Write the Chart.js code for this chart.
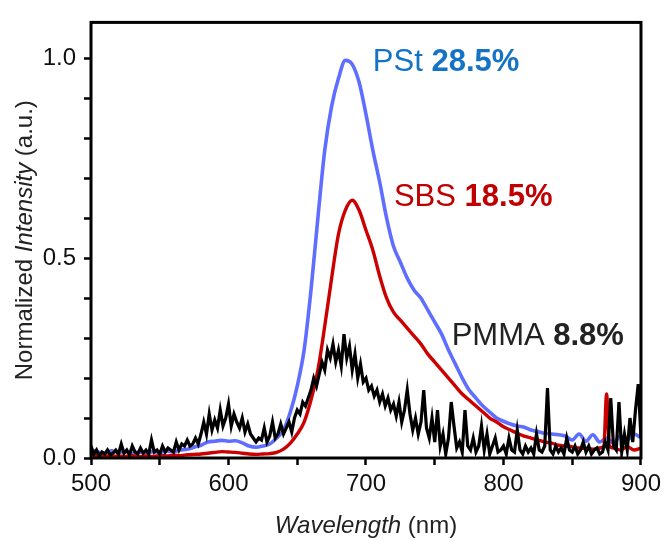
<!DOCTYPE html>
<html>
<head>
<meta charset="utf-8">
<script src="https://cdn.jsdelivr.net/npm/chart.js@4.4.1/dist/chart.umd.min.js"></script>
<style>
  html, body { margin: 0; padding: 0; background: #fff; }
  #wrap { width: 666px; height: 541px; position: relative; }
</style>
</head>
<body>
<div id="wrap"><canvas id="myChart"></canvas></div>
<script>
// PSt emission, every 5 nm from 500 to 900
const pstValues = [
  0.020, 0.015, 0.012, 0.018, 0.014, 0.016, 0.012, 0.015, 0.013, 0.016,
  0.014, 0.017, 0.016, 0.020, 0.022, 0.027, 0.032, 0.040, 0.042, 0.044,
  0.042, 0.043, 0.038, 0.030, 0.027, 0.030, 0.035, 0.050, 0.070, 0.115,
  0.180, 0.270, 0.420, 0.600, 0.770, 0.880, 0.950, 0.995, 0.985, 0.940,
  0.860, 0.770, 0.690, 0.600, 0.530, 0.490, 0.450, 0.420, 0.400, 0.370,
  0.340, 0.310, 0.270, 0.235, 0.200, 0.170, 0.150, 0.130, 0.115, 0.100,
  0.092, 0.085, 0.080, 0.077, 0.070, 0.066, 0.062, 0.060, 0.058, 0.055,
  0.045, 0.060, 0.042, 0.058, 0.040, 0.050, 0.038, 0.055, 0.045, 0.060,
  0.050
];

// SBS emission, every 5 nm from 500 to 870, then the spike and the tail
const sbsMain = [
  0.010, 0.005, 0.006, 0.004, 0.005, 0.004, 0.006, 0.004, 0.005, 0.004,
  0.006, 0.005, 0.007, 0.006, 0.008, 0.009, 0.010, 0.012, 0.014, 0.016,
  0.015, 0.014, 0.012, 0.010, 0.009, 0.010, 0.011, 0.014, 0.022, 0.037,
  0.060, 0.090, 0.145, 0.220, 0.330, 0.450, 0.560, 0.620, 0.645, 0.620,
  0.570, 0.520, 0.455, 0.400, 0.365, 0.345, 0.325, 0.305, 0.285, 0.260,
  0.240, 0.220, 0.200, 0.180, 0.160, 0.145, 0.130, 0.115, 0.100, 0.090,
  0.078, 0.070, 0.062, 0.055, 0.050, 0.045, 0.040, 0.037, 0.032, 0.030,
  0.028, 0.025, 0.024, 0.022, 0.025
];
const sbsTailWl = [873, 875, 877, 880, 885, 890, 895, 900];
const sbsTail = [0.030, 0.160, 0.030, 0.025, 0.020, 0.028, 0.020, 0.025];

// PMMA emission, every 2 nm from 500 to 900
const pmmaValues = [
  0.030, 0.010, 0.020, 0.005, 0.015, 0.010, 0.020, 0.008, 0.012, 0.020,
  0.010, 0.035, 0.012, 0.020, 0.008, 0.030, 0.015, 0.010, 0.025, 0.012,
  0.020, 0.010, 0.045, 0.015, 0.020, 0.010, 0.030, 0.015, 0.025, 0.020,
  0.015, 0.040, 0.020, 0.035, 0.030, 0.045, 0.030, 0.035, 0.050, 0.035,
  0.060, 0.090, 0.060, 0.110, 0.070, 0.095, 0.075, 0.120, 0.080, 0.100,
  0.135, 0.080, 0.110, 0.090, 0.075, 0.100, 0.065, 0.085, 0.060, 0.050,
  0.040, 0.050, 0.045, 0.075, 0.040, 0.055, 0.090, 0.050, 0.060, 0.085,
  0.060, 0.075, 0.090, 0.065, 0.100, 0.120, 0.110, 0.140, 0.130, 0.150,
  0.170, 0.200, 0.180, 0.210, 0.240, 0.220, 0.270, 0.250, 0.285, 0.240,
  0.270, 0.230, 0.310, 0.250, 0.280, 0.220, 0.260, 0.200, 0.235, 0.190,
  0.200, 0.170, 0.180, 0.155, 0.170, 0.140, 0.160, 0.130, 0.150, 0.120,
  0.135, 0.105, 0.140, 0.090, 0.120, 0.170, 0.110, 0.070, 0.100, 0.060,
  0.090, 0.170, 0.075, 0.050, 0.100, 0.040, 0.120, 0.030, 0.060, 0.010,
  0.050, 0.140, 0.080, 0.025, 0.040, 0.015, 0.120, 0.030, 0.020, 0.050,
  0.015, 0.030, 0.080, 0.020, 0.060, 0.010, 0.030, 0.050, 0.015, 0.020,
  0.030, 0.010, 0.050, 0.020, 0.015, 0.070, 0.020, 0.010, 0.030, 0.015,
  0.025, 0.010, 0.060, 0.020, 0.015, 0.030, 0.175, 0.020, 0.010, 0.030,
  0.015, 0.025, 0.010, 0.050, 0.020, 0.015, 0.030, 0.010, 0.020, 0.040,
  0.015, 0.030, 0.010, 0.020, 0.025, 0.010, 0.015, 0.040, 0.020, 0.150,
  0.030, 0.020, 0.140, 0.015, 0.060, 0.020, 0.100, 0.040, 0.120, 0.185,
  0.050
];

const xTicks = [500, 600, 700, 800, 900];
const yTicks = [0.0, 0.5, 1.0];

const FONT = 'Arial, "Liberation Sans", sans-serif';

function onGrid(values, start, step) {
  return values.map((v, i) => ({ x: start + i * step, y: v }));
}

const pstData = onGrid(pstValues, 500, 5);
const sbsData = onGrid(sbsMain, 500, 5).concat(sbsTailWl.map((w, i) => ({ x: w, y: sbsTail[i] })));
const pmmaData = onGrid(pmmaValues, 500, 2);

// text with mixed styles: [[text, style], ...]
function drawParts(ctx, parts, size, x, y, align) {
  let total = 0;
  parts.forEach(p => {
    ctx.font = `${p[1]} ${size}px ${FONT}`;
    total += ctx.measureText(p[0]).width;
  });
  let cx = align === "center" ? x - total / 2 : x;
  parts.forEach(p => {
    ctx.font = `${p[1]} ${size}px ${FONT}`;
    ctx.fillText(p[0], cx, y);
    cx += ctx.measureText(p[0]).width;
  });
}

const frameAndText = {
  id: "frameAndText",
  afterDraw(chart) {
    const { ctx, chartArea: a, scales } = chart;
    ctx.save();
    // box round the plot
    ctx.strokeStyle = "#000";
    ctx.lineWidth = 3;
    ctx.strokeRect(a.left, a.top, a.right - a.left, a.bottom - a.top);

    ctx.fillStyle = "#222";
    ctx.textAlign = "left";
    ctx.textBaseline = "alphabetic";
    drawParts(ctx, [["Wavelength", "italic"], [" (nm)", "normal"]], 24, (a.left + a.right) / 2, 533, "center");

    ctx.save();
    ctx.translate(32, (a.top + a.bottom) / 2);
    ctx.rotate(-Math.PI / 2);
    drawParts(ctx, [["Normalized ", "normal"], ["Intensity", "italic"], [" (a.u.)", "normal"]], 24, 0, 0, "center");
    ctx.restore();

    // sample labels
    const notes = [
      { x: 705, y: 0.968, name: "PSt ", value: "28.5%", color: "#1573c6" },
      { x: 720.3, y: 0.63, name: "SBS ", value: "18.5%", color: "#c00000" },
      { x: 762.3, y: 0.284, name: "PMMA ", value: "8.8%", color: "#222222" }
    ];
    notes.forEach(n => {
      ctx.fillStyle = n.color;
      drawParts(ctx, [[n.name, "normal"], [n.value, "bold"]], 31,
        scales.x.getPixelForValue(n.x), scales.y.getPixelForValue(n.y), "left");
    });
    ctx.restore();
  }
};

const ctx = document.getElementById("myChart").getContext("2d");
const myChart = new Chart(ctx, {
  type: "line",
  data: {
    datasets: [
      {
        label: "PMMA",
        data: pmmaData,
        borderColor: "#000000",
        borderWidth: 3.2,
        pointRadius: 0,
        tension: 0,
        order: 1
      },
      {
        label: "SBS",
        data: sbsData,
        borderColor: "#cc0000",
        borderWidth: 3.4,
        pointRadius: 0,
        cubicInterpolationMode: "monotone",
        order: 2
      },
      {
        label: "PSt",
        data: pstData,
        borderColor: "#5f6eff",
        borderWidth: 3.6,
        pointRadius: 0,
        cubicInterpolationMode: "monotone",
        order: 3
      }
    ]
  },
  options: {
    responsive: true,
    maintainAspectRatio: false,
    animation: false,
    layout: { padding: { top: 15, right: 23, left: 0, bottom: 0 } },
    plugins: {
      legend: { display: false },
      tooltip: { enabled: false }
    },
    scales: {
      x: {
        type: "linear",
        min: 500,
        max: 900,
        afterFit: s => { s.height = 83; },
        border: { display: false },
        grid: { drawOnChartArea: false, tickLength: 7, tickColor: "#000", tickWidth: 2.5 },
        ticks: {
          stepSize: 50,
          autoSkip: false,
          maxRotation: 0,
          padding: 5,
          color: "#111",
          font: { family: FONT, size: 24 },
          callback: v => xTicks.includes(v) ? String(v) : ""
        }
      },
      y: {
        min: 0,
        max: 1.09,
        afterFit: s => { s.width = 91; },
        border: { display: false },
        grid: { drawOnChartArea: false, tickLength: 7, tickColor: "#000", tickWidth: 2.5 },
        ticks: {
          stepSize: 0.1,
          includeBounds: false,
          autoSkip: false,
          padding: 8,
          color: "#111",
          font: { family: FONT, size: 24 },
          callback: v => {
            const t = yTicks.find(k => Math.abs(k - v) < 1e-6);
            return t === undefined ? "" : t.toFixed(1);
          }
        }
      }
    }
  },
  plugins: [frameAndText]
});
</script>
</body>
</html>
